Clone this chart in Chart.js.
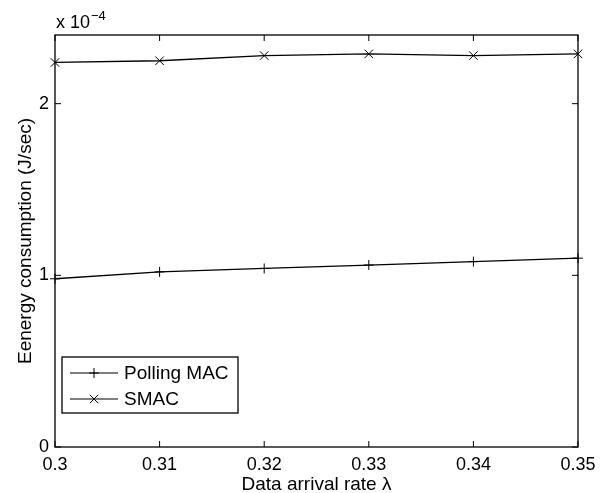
<!DOCTYPE html>
<html>
<head>
<meta charset="utf-8">
<script src="https://cdn.jsdelivr.net/npm/chart.js@4"></script>
<style>
  html, body { margin: 0; padding: 0; background: #fff; }
  canvas { display: block; }
</style>
</head>
<body>
<canvas id="chart" width="608" height="493"></canvas>
<script>
// data arrival rate (lambda)
const arrivalRates = [0.30, 0.31, 0.32, 0.33, 0.34, 0.35];
// energy consumption, in units of 1e-4 J/sec
const pollingEnergy = [0.98, 1.02, 1.04, 1.06, 1.08, 1.10];
const smacEnergy = [2.24, 2.25, 2.28, 2.29, 2.28, 2.29];
const seriesNames = ['Polling MAC', 'SMAC'];
const xTicks = [0.30, 0.31, 0.32, 0.33, 0.34, 0.35];
const yTicks = [0, 1, 2];

const FONT = 'Liberation Sans, Arial, Helvetica, sans-serif';

function toPoints(xs, ys) {
    return xs.map((x, i) => ({ x: x, y: ys[i] }));
}

// boxed axes with inward ticks, inline legend and the exponent label
const matlabFrame = {
    id: 'matlabFrame',
    afterDraw(chart) {
        const ctx = chart.ctx;
        const area = chart.chartArea;
        const xs = chart.scales.x;
        const ys = chart.scales.y;
        const tl = 6;

        ctx.save();
        ctx.strokeStyle = '#000';
        ctx.lineWidth = 1.3;
        ctx.strokeRect(area.left, area.top, area.right - area.left, area.bottom - area.top);

        ctx.beginPath();
        xs.ticks.forEach(t => {
            const px = xs.getPixelForValue(t.value);
            ctx.moveTo(px, area.bottom); ctx.lineTo(px, area.bottom - tl);
            ctx.moveTo(px, area.top); ctx.lineTo(px, area.top + tl);
        });
        ys.ticks.forEach(t => {
            const py = ys.getPixelForValue(t.value);
            ctx.moveTo(area.left, py); ctx.lineTo(area.left + tl, py);
            ctx.moveTo(area.right, py); ctx.lineTo(area.right - tl, py);
        });
        ctx.lineWidth = 1;
        ctx.stroke();

        // x 10^-4 above the y axis
        ctx.fillStyle = '#000';
        ctx.textBaseline = 'alphabetic';
        ctx.textAlign = 'left';
        ctx.font = '18px ' + FONT;
        ctx.fillText('x 10', area.left + 1, area.top - 7);
        const w = ctx.measureText('x 10').width;
        ctx.font = '13px ' + FONT;
        ctx.fillText('\u22124', area.left + 1 + w + 1, area.top - 15);

        // legend box in the lower left corner
        const lx = area.left + 7, ly = area.top + 322, lw = 176, lh = 56;
        ctx.fillStyle = '#fff';
        ctx.fillRect(lx, ly, lw, lh);
        ctx.lineWidth = 1.3;
        ctx.strokeStyle = '#000';
        ctx.strokeRect(lx, ly, lw, lh);

        ctx.font = '19px ' + FONT;
        ctx.textBaseline = 'middle';
        chart.data.datasets.forEach((ds, i) => {
            const cy = ly + 16 + i * 26;
            const x0 = lx + 8, x1 = lx + 56, mx = (x0 + x1) / 2;
            ctx.beginPath();
            ctx.lineWidth = 1.2;
            ctx.moveTo(x0, cy); ctx.lineTo(x1, cy);
            ctx.stroke();
            ctx.beginPath();
            ctx.lineWidth = 1;
            if (ds.pointStyle === 'cross') {
                const r = ds.pointRadius;
                ctx.moveTo(mx, cy - r); ctx.lineTo(mx, cy + r);
                ctx.moveTo(mx - r, cy); ctx.lineTo(mx + r, cy);
            } else {
                const r = ds.pointRadius * Math.SQRT1_2;
                ctx.moveTo(mx - r, cy - r); ctx.lineTo(mx + r, cy + r);
                ctx.moveTo(mx - r, cy + r); ctx.lineTo(mx + r, cy - r);
            }
            ctx.stroke();
            ctx.fillStyle = '#000';
            ctx.fillText(ds.label, x1 + 6, cy + 1);
        });
        ctx.restore();
    }
};

new Chart(document.getElementById('chart'), {
    type: 'line',
    data: {
        datasets: [
            {
                label: seriesNames[0],
                data: toPoints(arrivalRates, pollingEnergy),
                borderColor: '#000',
                borderWidth: 1.3,
                pointStyle: 'cross',
                pointRadius: 5,
                pointBorderWidth: 1,
                pointBorderColor: '#000',
                fill: false,
                clip: false
            },
            {
                label: seriesNames[1],
                data: toPoints(arrivalRates, smacEnergy),
                borderColor: '#000',
                borderWidth: 1.3,
                pointStyle: 'crossRot',
                pointRadius: 6,
                pointBorderWidth: 1,
                pointBorderColor: '#000',
                fill: false,
                clip: false
            }
        ]
    },
    options: {
        responsive: false,
        animation: false,
        devicePixelRatio: 1,
        layout: { padding: { top: 35, right: 30, left: 0, bottom: 0 } },
        plugins: {
            legend: { display: false },
            tooltip: { enabled: false }
        },
        scales: {
            x: {
                type: 'linear',
                min: 0.30,
                max: 0.35,
                afterBuildTicks: scale => { scale.ticks = xTicks.map(v => ({ value: v })); },
                afterFit: scale => { scale.height = 46; },
                grid: { display: false, drawTicks: false },
                border: { display: false },
                ticks: {
                    padding: 7,
                    color: '#000',
                    font: { family: FONT, size: 18 },
                    callback: v => String(+v.toFixed(2))
                },
                title: {
                    display: true,
                    text: 'Data arrival rate \u03bb',
                    color: '#000',
                    font: { family: FONT, size: 19, lineHeight: 1 },
                    padding: { top: 0, bottom: -1 }
                }
            },
            y: {
                min: 0,
                max: 2.4,
                afterBuildTicks: scale => { scale.ticks = yTicks.map(v => ({ value: v })); },
                afterFit: scale => { scale.width = 55; },
                grid: { display: false, drawTicks: false },
                border: { display: false },
                ticks: {
                    padding: 6,
                    color: '#000',
                    font: { family: FONT, size: 18 },
                    callback: v => String(v)
                },
                title: {
                    display: true,
                    text: 'Eenergy consumption (J/sec)',
                    color: '#000',
                    font: { family: FONT, size: 19 },
                    padding: { top: 14, bottom: 0 }
                }
            }
        }
    },
    plugins: [matlabFrame]
});
</script>
</body>
</html>
